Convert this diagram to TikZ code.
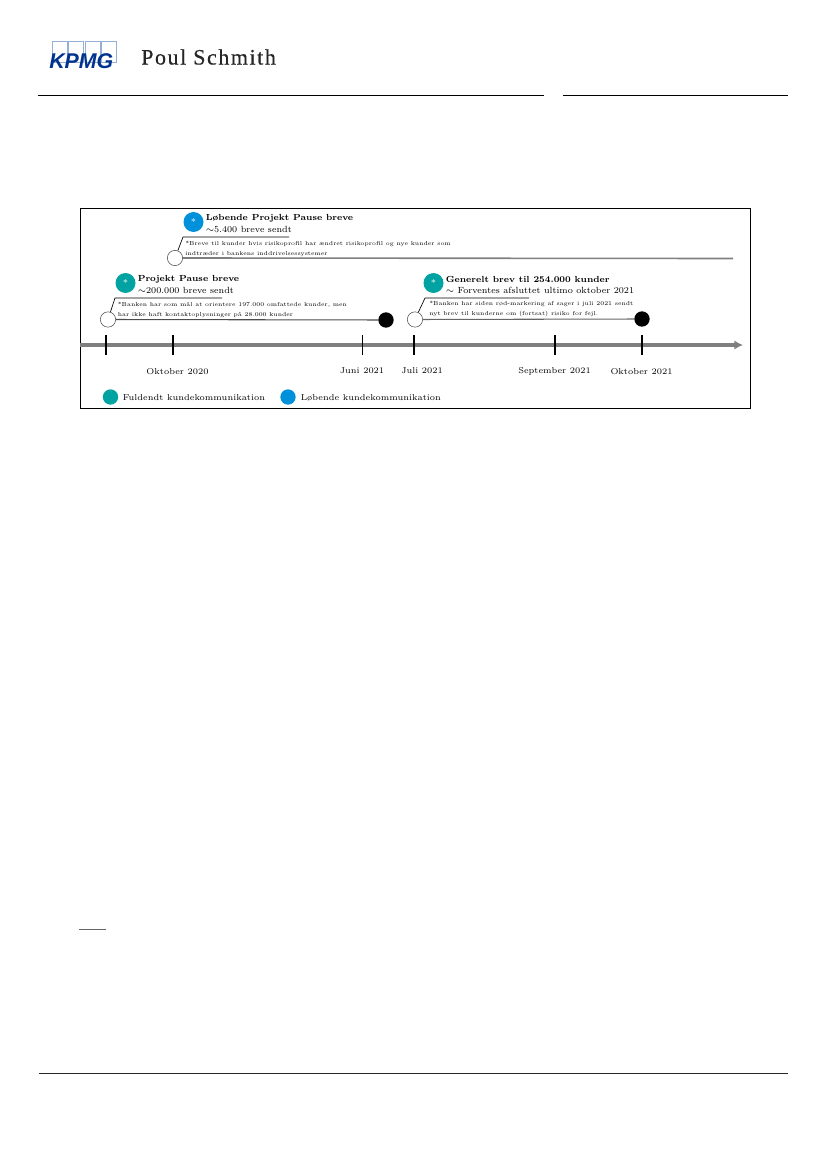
\documentclass[tikz,border=0pt]{standalone}
\usepackage{fontspec}
\newfontfamily\logofont{Liberation Sans}
\newfontfamily\namefont{Liberation Serif}
\usetikzlibrary{arrows.meta}
\definecolor{kpmgblue}{RGB}{0,51,141}
\definecolor{boxblue}{RGB}{150,175,215}
\definecolor{tealdot}{RGB}{0,163,161}
\definecolor{bluedot}{RGB}{0,145,218}
\definecolor{axisgray}{RGB}{127,127,127}

\begin{document}
\begin{tikzpicture}[
    x=0.75pt, y=-0.75pt,
    page rule/.style={line width=0.8pt, color=black},
    axis/.style={-{Latex[length=6.5pt,width=7pt]}, line width=2.6pt, color=axisgray},
    tick/.style={line width=1.3pt, color=black},
    flag line/.style={line width=0.5pt, color=black},
    open dot/.style={circle, draw=black!70, line width=0.4pt, fill=white, minimum size=11.5pt, inner sep=0pt},
    full dot/.style={circle, fill=black, minimum size=11.5pt, inner sep=0pt},
    star dot/.style={circle, minimum size=15pt, inner sep=0pt, text=white, font=\fontsize{7}{7}\selectfont},
    key dot/.style={circle, minimum size=11.5pt, inner sep=0pt},
    head text/.style={anchor=west, inner sep=0pt, font=\fontsize{6.6}{6.6}\selectfont\bfseries},
    sub text/.style={anchor=west, inner sep=0pt, font=\fontsize{6.7}{6.7}\selectfont},
    note text/.style={anchor=west, inner sep=0pt, align=left, font=\fontsize{4.33}{7.5}\selectfont},
    date text/.style={inner sep=0pt, font=\fontsize{6.4}{6.4}\selectfont},
    logo box/.style={draw=boxblue, line width=0.6pt}
    ]

    % page
    \useasboundingbox (0,0) rectangle (827,1169);

    % header
    \foreach \i in {0,1,2,3}
        \draw[logo box] (52+16.5*\i,41) rectangle ++(15,21);
    \node[anchor=west, inner sep=0pt, text=kpmgblue, font=\logofont\fontsize{16}{16}\selectfont\bfseries\itshape] (logo) at (49,61) {KPMG};
    \node[anchor=west, inner sep=0pt, text=black!85, font=\namefont\fontsize{16.5}{16.5}\selectfont\addfontfeature{LetterSpace=7,FakeBold=0.4}] (firm) at (141,57) {Poul Schmith};
    \draw[page rule] (38,95.5) -- (544,95.5);
    \draw[page rule] (563,95.5) -- (788,95.5);

    % frame
    \draw[line width=0.7pt] (80.5,208.5) rectangle (750.5,408.5);

    % axis
    \coordinate (start) at (80,345);
    \coordinate (end) at (743,345);
    \draw[axis] (start) -- (end);
    \foreach \x in {106,173,362.5,414,555,642}
        \draw[tick] (\x,335) -- (\x,355);
    \node[date text] (oct20) at (177.5,372) {Oktober 2020};
    \node[date text] (jun21) at (362,370.5) {Juni 2021};
    \node[date text] (jul21) at (422,371) {Juli 2021};
    \node[date text] (sep21) at (554.5,371.5) {September 2021};
    \node[date text] (oct21) at (641.5,371.5) {Oktober 2021};

    % running letters
    \node[star dot, fill=bluedot] (run) at (193.5,222) {*};
    \node[head text] (runhead) at (205.5,218.5) {Løbende Projekt Pause breve};
    \node[sub text] (runsub) at (205.5,229) {$\sim$5.400 breve sendt};
    \node[note text] (runnote) at (185,249) {*Breve til kunder hvis risikoprofil har ændret risikoprofil og nye kunder som\\indtræder i bankens inddrivelsessystemer};
    \node[open dot] (runstart) at (175,258) {};
    \coordinate (runbend) at (183,237);
    \coordinate (runflag) at (289,237);
    \coordinate (runend) at (733,258.5);
    \draw[flag line] (runstart) -- (runbend) -- (runflag);
    \draw[line width=1.2pt, color=axisgray] (runstart) -- (runend);

    % project letters
    \node[star dot, fill=tealdot] (pause) at (125.5,283) {*};
    \node[head text] (pausehead) at (137.5,279.5) {Projekt Pause breve};
    \node[sub text] (pausesub) at (137.5,290) {$\sim$200.000 breve sendt};
    \node[note text] (pausenote) at (117.5,309.5) {*Banken har som mål at orientere 197.000 omfattede kunder, men\\har ikke haft kontaktoplysninger på 28.000 kunder};
    \node[open dot] (pausestart) at (108,319.5) {};
    \node[full dot] (pauseend) at (386,320) {};
    \coordinate (pausebend) at (115,298);
    \coordinate (pauseflag) at (222,298);
    \draw[flag line] (pausestart) -- (pausebend) -- (pauseflag);
    \draw[line width=0.8pt, color=black!70] (pausestart) -- (pauseend);

    % general letter
    \node[star dot, fill=tealdot] (general) at (433.5,283) {*};
    \node[head text] (generalhead) at (445.5,279.5) {Generelt brev til 254.000 kunder};
    \node[sub text] (generalsub) at (445.5,290.5) {$\sim$ Forventes afsluttet ultimo oktober 2021};
    \node[note text] (generalnote) at (429,309.5) {*Banken har siden rød-markering af sager i juli 2021 sendt\\nyt brev til kunderne om (fortsat) risiko for fejl.};
    \node[open dot] (generalstart) at (415,319.5) {};
    \node[full dot] (generalend) at (642,319) {};
    \coordinate (generalbend) at (425,298);
    \coordinate (generalflag) at (529,298);
    \draw[flag line] (generalstart) -- (generalbend) -- (generalflag);
    \draw[line width=0.8pt, color=black!60] (generalstart) -- (generalend);

    % legend
    \node[key dot, fill=tealdot] (keydone) at (110.5,397) {};
    \node[date text, anchor=west] (keydonetext) at (122.5,397.5) {Fuldendt kundekommunikation};
    \node[key dot, fill=bluedot] (keyrun) at (288,397) {};
    \node[date text, anchor=west] (keyruntext) at (300.5,397.5) {Løbende kundekommunikation};

    % footer
    \draw[line width=0.5pt, color=black!60] (79,929) -- (106,929);
    \draw[line width=0.6pt, color=black!85] (39,1073) -- (788,1073);
\end{tikzpicture}
\end{document}
